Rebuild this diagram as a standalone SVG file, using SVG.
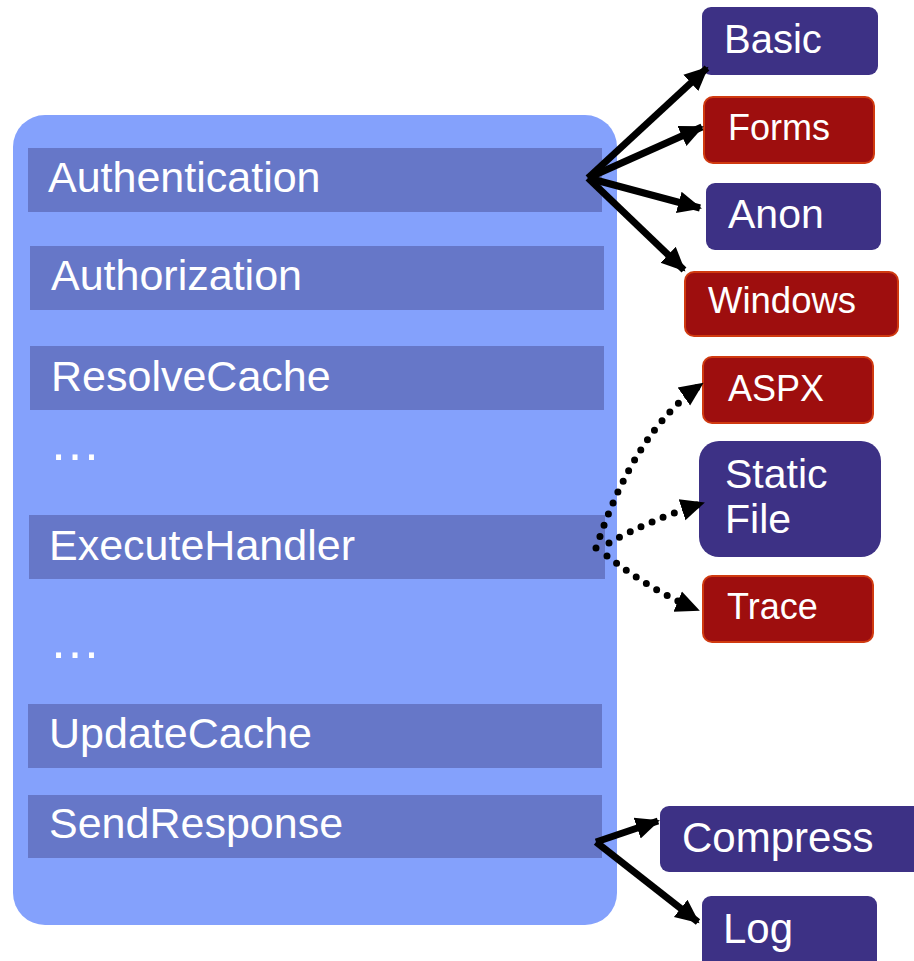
<svg xmlns="http://www.w3.org/2000/svg" width="914" height="961" viewBox="0 0 914 961">
<defs>
<style>
.bar{fill:#6677C8}
.lt{font-family:"Liberation Sans",Arial,sans-serif;font-size:43px;fill:#fff}
.el{font-family:"Liberation Sans",Arial,sans-serif;font-size:52px;fill:#fff}
.nt{font-family:"Liberation Sans",Arial,sans-serif;fill:#fff}
.blue{fill:#3D3185}
.red{fill:#9E0E0E;stroke:#D03A10;stroke-width:2}
.solid{fill:none;stroke:#000;stroke-width:7;marker-end:url(#ah)}
.dot{fill:none;stroke:#000;stroke-width:7;stroke-linecap:round;stroke-dasharray:0 12;marker-end:url(#ah)}
</style>
<marker id="ah" markerUnits="userSpaceOnUse" markerWidth="26" markerHeight="26" viewBox="0 0 26 26" refX="22" refY="13" orient="auto">
<path d="M0,2 L24,13 L0,24 Z" fill="#000"/>
</marker>
</defs>
<rect x="13" y="115" width="604" height="810" rx="32" fill="#84A1FC"/>
<g id="authentication"><rect class="bar" x="28" y="148" width="574" height="64"/><text class="lt" x="48" y="192">Authentication</text></g>
<g id="authorization"><rect class="bar" x="30" y="246" width="574" height="64"/><text class="lt" x="51" y="290">Authorization</text></g>
<g id="resolvecache"><rect class="bar" x="30" y="346" width="574" height="64"/><text class="lt" x="51" y="391">ResolveCache</text></g>
<g id="ellipsis1"><text class="el" x="49" y="460">…</text></g>
<g id="executehandler"><rect class="bar" x="29" y="515" width="576" height="64"/><text class="lt" x="49" y="560">ExecuteHandler</text></g>
<g id="ellipsis2"><text class="el" x="49" y="658">…</text></g>
<g id="updatecache"><rect class="bar" x="28" y="704" width="574" height="64"/><text class="lt" x="49" y="748">UpdateCache</text></g>
<g id="sendresponse"><rect class="bar" x="28" y="795" width="574" height="63"/><text class="lt" x="49" y="838">SendResponse</text></g>

<g id="basic"><rect class="blue" x="702" y="7" width="176" height="68" rx="9"/><text class="nt" x="724" y="53" font-size="40">Basic</text></g>
<g id="forms"><rect class="red" x="704" y="97" width="170" height="66" rx="9"/><text class="nt" x="728" y="140" font-size="36">Forms</text></g>
<g id="anon"><rect class="blue" x="706" y="183" width="175" height="67" rx="9"/><text class="nt" x="728" y="228" font-size="41">Anon</text></g>
<g id="windows"><rect class="red" x="685" y="272" width="213" height="64" rx="9"/><text class="nt" x="708" y="313" font-size="36.5">Windows</text></g>
<g id="aspx"><rect class="red" x="703" y="357" width="170" height="66" rx="9"/><text class="nt" x="728" y="401" font-size="36">ASPX</text></g>
<g id="staticfile"><rect class="blue" x="699" y="441" width="182" height="116" rx="20"/><text class="nt" x="725" y="488" font-size="41">Static</text><text class="nt" x="725" y="533" font-size="41">File</text></g>
<g id="trace"><rect class="red" x="703" y="576" width="170" height="66" rx="9"/><text class="nt" x="727" y="619" font-size="36">Trace</text></g>
<g id="compress"><rect class="blue" x="660" y="806" width="262" height="66" rx="9"/><text class="nt" x="682" y="852" font-size="42">Compress</text></g>
<g id="log"><rect class="blue" x="702" y="896" width="175" height="75" rx="9"/><text class="nt" x="723" y="943" font-size="42">Log</text></g>

<g id="connectors">
<path class="solid" d="M588,178 L707,68"/>
<path class="solid" d="M588,178 L702,127"/>
<path class="solid" d="M588,178 L700,208"/>
<path class="solid" d="M588,178 L684,270"/>
<path class="dot" d="M596,548 Q635,430 702,384"/>
<path class="dot" d="M609,543 Q650,520 703,503"/>
<path class="dot" d="M607,556 Q650,590 698,610"/>
<path class="solid" d="M596,842 L658,821"/>
<path class="solid" d="M596,842 L698,922"/>
</g>
</svg>
